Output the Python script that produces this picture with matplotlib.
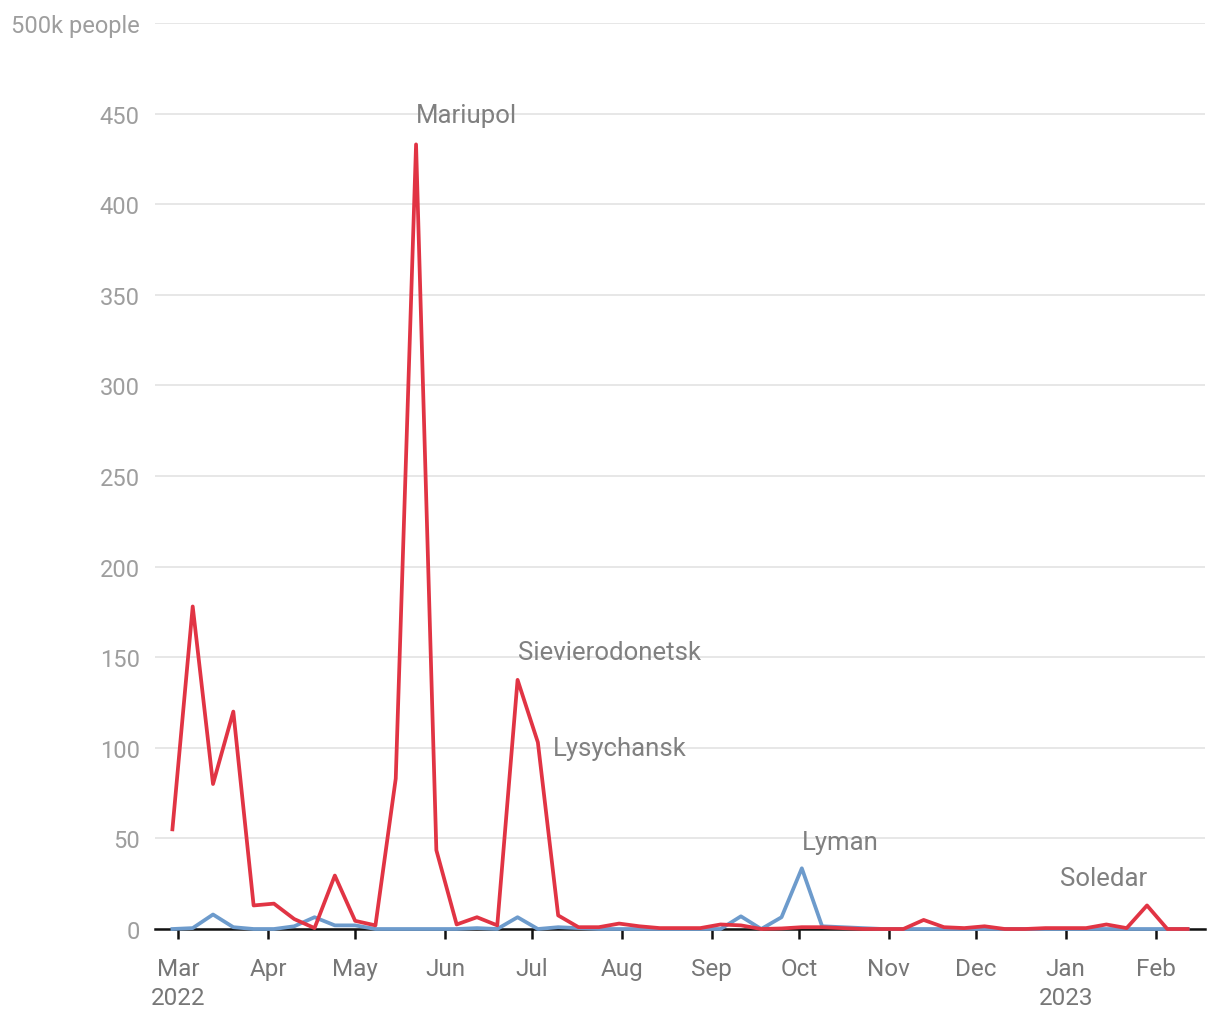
import datetime as dt
import matplotlib
matplotlib.use("Agg")
import matplotlib.pyplot as plt

plt.rcParams['font.family'] = ['Roboto', 'DejaVu Sans']

# weekly series, starting Sunday 27 Feb 2022
start = dt.date(2022, 2, 27)
red_values = [55, 178, 80, 120, 13, 14, 5.5, 0.5, 29.5, 4.5,
              2, 83, 433, 43.5, 2.5, 6.5, 2, 137.5, 103, 7.5,
              1, 1, 3, 1.5, 0.5, 0.5, 0.5, 2.5, 2, 0,
              0.3, 1, 1, 0.5, 0, 0, 0, 5, 1, 0.5,
              1.5, 0, 0, 0.5, 0.5, 0.5, 2.5, 0.5, 13, 0,
              0]
blue_values = [0, 0.5, 8, 1, 0, 0, 1.5, 6.5, 2, 2,
               0, 0, 0, 0, 0, 0.5, 0, 6.5, 0, 1,
               0.5, 0, 0, 0, 0, 0, 0, 0, 7, 0,
               6.5, 33.5, 1.5, 1, 0.5, 0, 0, 0, 0, 0,
               0, 0, 0, 0, 0, 0, 0, 0, 0, 0,
               0]
dates = [start + dt.timedelta(days=7 * i) for i in range(len(red_values))]

month_ticks = [dt.date(2022, m, 1) for m in range(3, 13)] + [dt.date(2023, 1, 1), dt.date(2023, 2, 1)]
month_labels = ['Mar\n2022', 'Apr', 'May', 'Jun', 'Jul', 'Aug', 'Sep', 'Oct', 'Nov', 'Dec', 'Jan\n2023', 'Feb']
y_ticks = [0, 50, 100, 150, 200, 250, 300, 350, 400, 450, 500]
y_labels = ['0', '50', '100', '150', '200', '250', '300', '350', '400', '450', '500k people']

annotations = [
    ('Mariupol', dt.date(2022, 5, 22), 449, 'left'),
    ('Sievierodonetsk', dt.date(2022, 6, 26), 153, 'left'),
    ('Lysychansk', dt.date(2022, 7, 8), 100, 'left'),
    ('Lyman', dt.date(2022, 10, 2), 48, 'left'),
    ('Soledar', dt.date(2023, 1, 29), 28, 'right'),
]

RED = '#e13444'
BLUE = '#6d9bcc'

fig = plt.figure(figsize=(12.2, 10.2), dpi=100)
ax = fig.add_axes([155 / 1220, 1 - 930 / 1020, (1205 - 155) / 1220, (930 - 24) / 1020])

ax.plot(dates, blue_values, color=BLUE, lw=2.7, clip_on=False, zorder=3)
ax.plot(dates, red_values, color=RED, lw=2.7, clip_on=False, zorder=4)

ax.set_xlim(dt.date(2022, 2, 21), dt.date(2023, 2, 18))
ax.set_ylim(0, 500)

ax.set_yticks(y_ticks)
ax.set_yticklabels(y_labels)
ax.tick_params(axis='y', length=0, pad=11, labelsize=17, labelcolor='#9e9e9e')
ax.grid(axis='y', color='#e3e3e3', lw=1.2)
ax.set_axisbelow(True)

ax.set_xticks(month_ticks)
ax.set_xticklabels(month_labels)
ax.tick_params(axis='x', length=7, width=1.8, color='#111111', pad=13,
               labelsize=17.5, labelcolor='#777777')
for lbl in ax.get_xticklabels():
    lbl.set_linespacing(1.35)
    lbl.set_verticalalignment('top')

for s in ['top', 'right', 'left']:
    ax.spines[s].set_visible(False)
ax.spines['bottom'].set_color('#111111')
ax.spines['bottom'].set_linewidth(1.8)
ax.spines['bottom'].set_zorder(2)

for text, x, y, ha in annotations:
    ax.text(x, y, text, ha=ha, va='center', fontsize=18.5, color='#808080', zorder=5)

fig.savefig('out.png', dpi=100)
